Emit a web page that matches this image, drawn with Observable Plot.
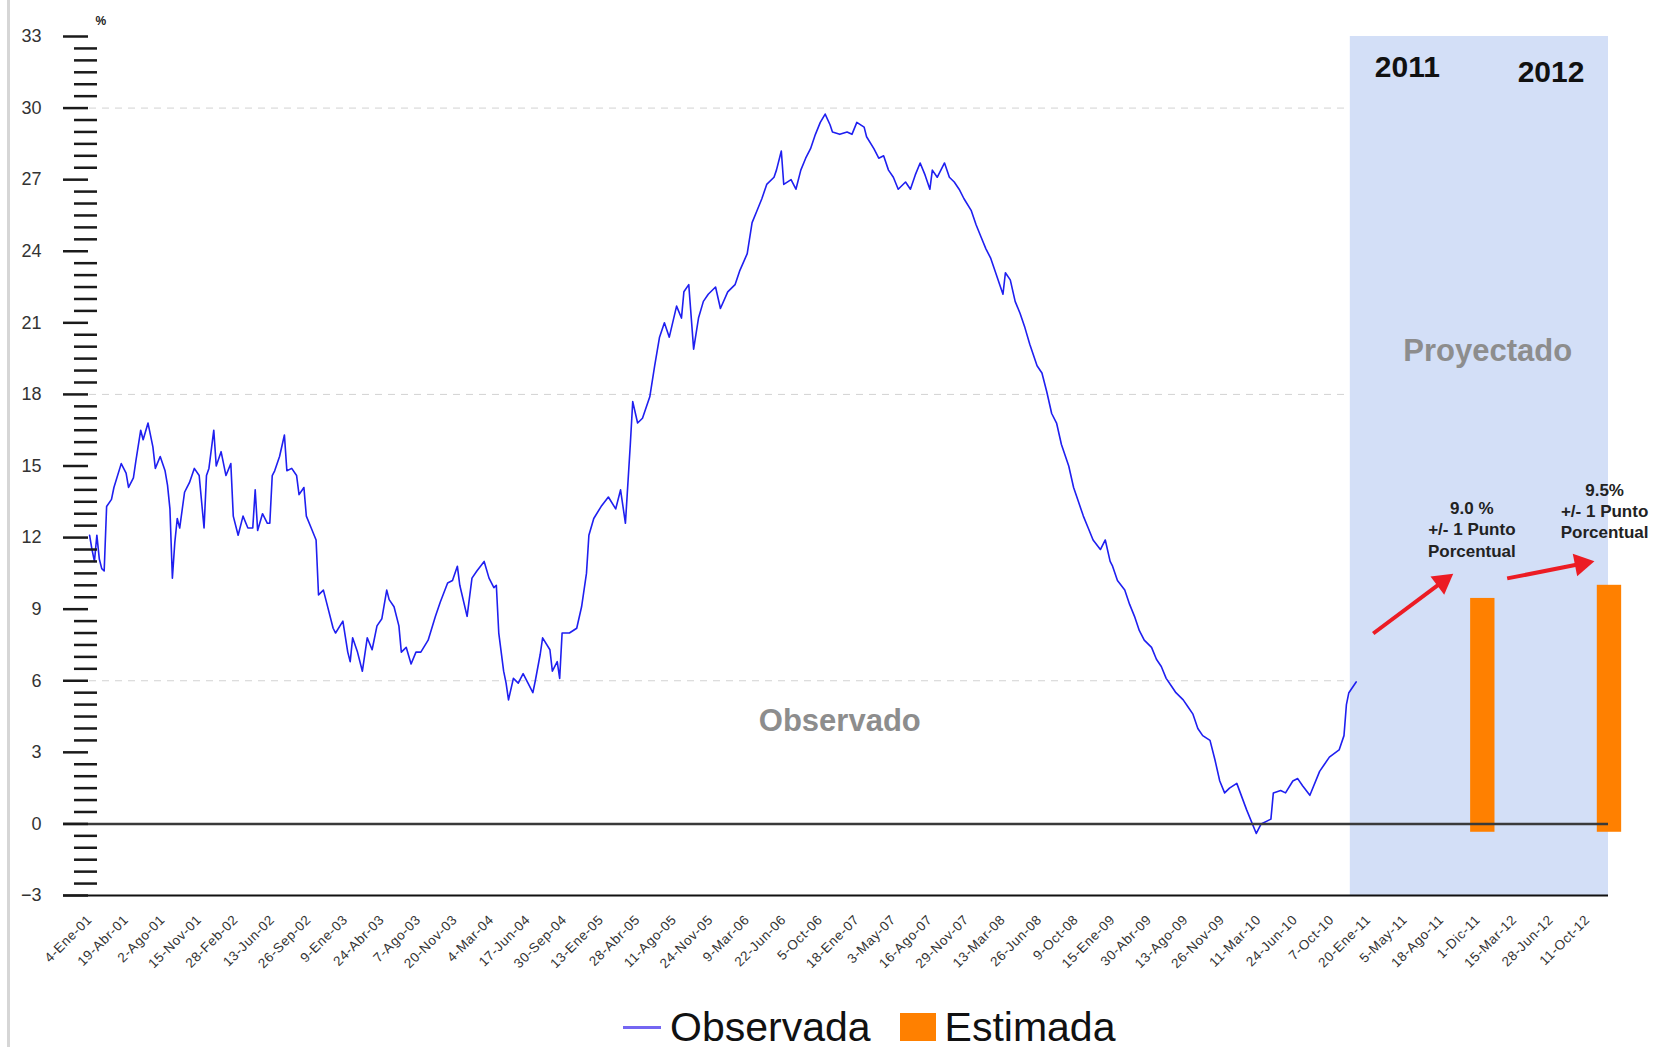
<!DOCTYPE html>
<html>
<head>
<meta charset="utf-8">
<script src="https://cdn.jsdelivr.net/npm/d3@7"></script>
<script src="https://cdn.jsdelivr.net/npm/@observablehq/plot@0.6"></script>
<style>
  html, body { margin: 0; padding: 0; background: #fff; }
  body { width: 1662px; height: 1047px; overflow: hidden; position: relative; font-family: "Liberation Sans", Arial, sans-serif; }
  #borde { position: absolute; left: 7px; top: 0; width: 3px; height: 1047px; background: #d6d6d6; }
  #grafico { position: absolute; left: 0; top: 0; }
  #leyenda { position: absolute; left: 0; top: 1008px; height: 38px; display: flex; align-items: center; padding-left: 623px; font-size: 41px; color: #111; }
  #leyenda .txt { line-height: 30px; height: 30px; }
  #leyenda .linea { width: 38px; height: 3px; background: #7466f2; margin-right: 9px; }
  #leyenda .cuadro { width: 36px; height: 28px; background: #ff8000; margin-left: 29px; margin-right: 9px; }
</style>
</head>
<body>
<div id="borde"></div>
<div id="grafico"></div>
<div id="leyenda"><span class="linea"></span><span class="txt">Observada</span><span class="cuadro"></span><span class="txt">Estimada</span></div>
<script>
// ---- Serie observada (semana desde 4-Ene-01, %) ----
const semanas = [0,1,2,3,4,5,6,7,9,10,13,15,16,18,19,21,22,24,26,27,29,31,32,33,34,35,36,37,39,40,41,43,45,47,48,49,51,52,54,56,58,59,61,63,65,67,68,69,71,73,74,75,76,78,80,81,83,85,86,88,89,91,93,94,96,97,100,101,104,106,107,108,110,112,114,116,118,120,122,123,125,127,128,130,132,134,136,139,142,144,147,149,151,152,155,157,159,162,164,166,167,168,170,171,172,174,176,178,180,182,183,185,186,189,190,192,193,194,197,200,202,204,205,207,210,213,216,218,220,222,223,225,227,230,232,234,236,238,241,243,244,246,248,250,252,254,257,259,262,265,267,270,272,274,276,278,281,282,284,285,288,290,292,294,296,298,300,302,304,305,308,311,313,315,318,319,322,324,326,328,330,332,335,337,339,341,343,345,346,348,351,353,355,357,359,362,364,366,368,370,372,375,376,378,380,382,384,386,389,391,393,395,397,399,402,404,406,408,410,412,415,417,419,420,422,425,427,429,431,433,436,438,440,442,444,446,449,451,453,455,457,460,462,464,466,468,471,475,479,481,485,486,489,491,494,496,498,501,505,507,509,513,515,516,517,520];
const tasaObservada = [12.1,11.5,11.0,12.1,11.1,10.7,10.6,13.3,13.6,14.1,15.1,14.7,14.1,14.5,15.2,16.5,16.1,16.8,15.8,14.9,15.4,14.8,14.2,13.2,10.3,11.8,12.8,12.4,13.9,14.1,14.3,14.9,14.6,12.4,14.6,14.9,16.5,15.0,15.6,14.6,15.1,12.9,12.1,12.9,12.4,12.4,14.0,12.3,13.0,12.6,12.6,14.6,14.8,15.4,16.3,14.8,14.9,14.6,13.8,14.1,12.9,12.4,11.9,9.6,9.8,9.4,8.2,8.0,8.5,7.2,6.8,7.8,7.2,6.4,7.8,7.3,8.3,8.6,9.8,9.4,9.1,8.3,7.2,7.4,6.7,7.2,7.2,7.7,8.7,9.3,10.1,10.2,10.8,10.0,8.7,10.3,10.6,11.0,10.3,9.9,10.0,8.0,6.4,5.9,5.2,6.1,5.9,6.3,5.9,5.5,6.0,7.1,7.8,7.3,6.4,6.8,6.1,8.0,8.0,8.2,9.1,10.5,12.1,12.8,13.3,13.7,13.2,14.0,12.6,15.9,17.7,16.8,17.0,17.9,19.2,20.4,21.0,20.4,21.7,21.2,22.3,22.6,19.9,21.2,21.9,22.2,22.5,21.6,22.3,22.6,23.2,23.9,25.2,25.7,26.2,26.8,27.1,27.4,28.2,26.8,27.0,26.6,27.4,27.9,28.3,28.9,29.4,29.75,29.3,29.0,28.9,29.0,28.9,29.4,29.2,28.8,28.3,27.9,28.0,27.4,27.1,26.6,26.9,26.6,27.2,27.7,27.2,26.6,27.4,27.1,27.7,27.1,26.9,26.6,26.2,25.7,25.1,24.6,24.1,23.7,23.1,22.2,23.1,22.8,21.9,21.4,20.8,20.1,19.2,18.9,18.1,17.2,16.8,15.9,15.0,14.1,13.5,12.9,12.4,11.9,11.5,11.9,11.0,10.8,10.2,9.8,9.2,8.7,8.1,7.7,7.4,6.9,6.6,6.1,5.8,5.5,5.2,4.9,4.6,4.0,3.7,3.5,2.7,1.8,1.3,1.5,1.7,0.6,-0.4,0.0,0.2,1.3,1.4,1.3,1.8,1.9,1.6,1.2,2.2,2.5,2.8,3.1,3.7,5.0,5.5,5.95];

// ---- Serie estimada (barras) ----
const estimadaSemana = [572, 624];
const estimadaValor = [9.45, 10.0];
const estimadaBase = [-0.35, -0.35];

// ---- Ejes ----
const tickSemanas = [0,15,30,45,60,75,90,105,120,135,150,165,180,195,210,225,240,255,270,285,300,315,330,345,360,375,390,405,420,435,450,465,480,495,510,525,540,555,570,585,600,615];
const tickEtiquetas = ["4-Ene-01","19-Abr-01","2-Ago-01","15-Nov-01","28-Feb-02","13-Jun-02","26-Sep-02","9-Ene-03","24-Abr-03","7-Ago-03","20-Nov-03","4-Mar-04","17-Jun-04","30-Sep-04","13-Ene-05","28-Abr-05","11-Ago-05","24-Nov-05","9-Mar-06","22-Jun-06","5-Oct-06","18-Ene-07","3-May-07","16-Ago-07","29-Nov-07","13-Mar-08","26-Jun-08","9-Oct-08","15-Ene-09","30-Abr-09","13-Ago-09","26-Nov-09","11-Mar-10","24-Jun-10","7-Oct-10","20-Ene-11","5-May-11","18-Ago-11","1-Dic-11","15-Mar-12","28-Jun-12","11-Oct-12"];
const yMayores = [-3,0,3,6,9,12,15,18,21,24,27,30,33];
const yMenores = d3.range(-3, 33.01, 0.5).filter(v => v % 3 !== 0);
const lineasGuia = [6, 18, 30];

// ---- Zona proyectada ----
const proyeccionDesde = 517.6;
const proyeccionHasta = 623.6;

// ---- Anotaciones ----
const anioTexto = ["2011", "2012"];
const anioSemana = [541, 600];
const anioValor = [31.7, 31.5];
const zonaTexto = ["Proyectado", "Observado"];
const zonaSemana = [574, 308];
const zonaValor = [19.8, 4.33];
const notaTexto = ["9.0 %\n+/- 1 Punto\nPorcentual", "9.5%\n+/- 1 Punto\nPorcentual"];
const notaSemana = [567.5, 622];
const notaValor = [12.38, 13.14];
const flechaX1 = [527, 582];
const flechaY1 = [7.98, 10.29];
const flechaX2 = [555.5, 612.5];
const flechaY2 = [10.15, 10.9];

const observada = semanas.map((s, i) => ({semana: s, valor: tasaObservada[i]}));
const estimada = estimadaSemana.map((s, i) => ({semana: s, valor: estimadaValor[i], base: estimadaBase[i]}));
const etiquetaDe = new Map(tickSemanas.map((s, i) => [s, tickEtiquetas[i]]));
const anios = anioTexto.map((t, i) => ({t, x: anioSemana[i], y: anioValor[i]}));
const zonas = zonaTexto.map((t, i) => ({t, x: zonaSemana[i], y: zonaValor[i]}));
const notas = notaTexto.map((t, i) => ({t, x: notaSemana[i], y: notaValor[i]}));

function construir(flechas) {
  return Plot.plot({
    width: 1662,
    height: 1000,
    marginLeft: 63,
    marginRight: 54,
    marginTop: 36,
    marginBottom: 105,
    style: {fontFamily: "'Liberation Sans', Arial, sans-serif", background: "transparent"},
    x: {domain: [-10.7, proyeccionHasta], axis: null},
    y: {domain: [-3, 33], axis: null},
    marks: [
      Plot.ruleY(lineasGuia, {stroke: "#d2d2d2", strokeDasharray: "7,6", strokeWidth: 1}),
      Plot.rect([{x1: proyeccionDesde, x2: proyeccionHasta}], {x1: "x1", x2: "x2", y1: -3, y2: 33, fill: "#d3dff7"}),
      Plot.lineY(observada, {x: "semana", y: "valor", stroke: "#1f1ff0", strokeWidth: 1.6}),
      Plot.rectY(estimada, {x1: d => d.semana - 5, x2: d => d.semana + 5, y1: "base", y2: "valor", fill: "#ff8000"}),
      Plot.ruleY([0], {stroke: "#3a3a3a", strokeWidth: 2.5}),
      Plot.ruleY([-3], {stroke: "#111", strokeWidth: 2.2}),
      Plot.axisY({ticks: yMenores, tickSize: 23, dx: 34, tickFormat: () => "", stroke: "#1a1a1a", strokeWidth: 2.5, label: null}),
      Plot.axisY({ticks: yMayores, tickSize: 25, dx: 25, tickPadding: 22, stroke: "#1a1a1a", strokeWidth: 2.5, fontSize: 18, fill: "#333", label: null}),
      Plot.axisX({ticks: tickSemanas, tickFormat: d => etiquetaDe.get(d), tickRotate: -45, tickSize: 0, tickPadding: 22, fontSize: 13.5, fill: "#333", label: null}),
      Plot.text(["%"], {frameAnchor: "top-left", dx: 32, dy: -20, fontSize: 12, fontWeight: "bold", fill: "#222"}),
      Plot.text(anios, {x: "x", y: "y", text: "t", fontSize: 30, fontWeight: "bold", fill: "#111", ariaLabel: "anios"}),
      Plot.text(zonas, {x: "x", y: "y", text: "t", fontSize: 31, fontWeight: "bold", fill: "#8d8d8d", ariaLabel: "zonas"}),
      Plot.text(notas, {x: "x", y: "y", text: "t", fontSize: 17, fontWeight: "bold", fill: "#222", lineHeight: 1.25, ariaLabel: "notas"}),
      Plot.link(flechas, {x1: "x1", y1: "y1", x2: "x2", y2: "y2", stroke: "#ec1c24", strokeWidth: 4}),
      Plot.dot(flechas, {x: "x2", y: "y2", symbol: "triangle", r: 8.5, fill: "#ec1c24", stroke: "none", rotate: "ang"})
    ]
  });
}

const base = flechaX1.map((x, i) => ({x1: x, y1: flechaY1[i], x2: flechaX2[i], y2: flechaY2[i], ang: 0}));
const borrador = construir(base);
const sx = borrador.scale("x"), sy = borrador.scale("y");
const flechas = base.map(f => {
  const dx = sx.apply(f.x2) - sx.apply(f.x1);
  const dy = sy.apply(f.y2) - sy.apply(f.y1);
  return {...f, ang: Math.atan2(dx, -dy) * 180 / Math.PI};
});
const chart = construir(flechas);
document.getElementById("grafico").appendChild(chart);

const sel = (label, ls) => chart.querySelectorAll(`g[aria-label="${label}"] text`).forEach(t => t.setAttribute("letter-spacing", ls));
sel("anios", "1");
sel("zonas", "1.5");
sel("notas", "1");
sel("x-axis tick label", "0.6");
</script>
</body>
</html>
